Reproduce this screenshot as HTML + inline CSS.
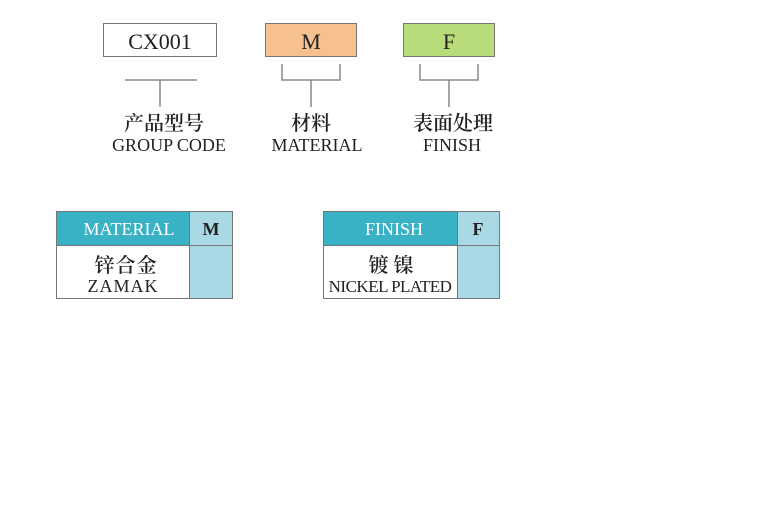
<!DOCTYPE html>
<html><head><meta charset="utf-8"><style>
body{margin:0;background:#fff;}
svg text{font-family:"Liberation Serif","Noto Serif CJK SC",serif;}
</style></head><body>
<svg width="778" height="500" xmlns="http://www.w3.org/2000/svg">
<rect x="103.5" y="23.5" width="113" height="33" fill="#fff" stroke="#777"/>
<text x="160" y="49" font-size="22" text-anchor="middle" fill="#222">CX001</text>
<rect x="265.5" y="23.5" width="91" height="33" fill="#f6c18f" stroke="#777"/>
<text x="311" y="49" font-size="22" text-anchor="middle" fill="#222">M</text>
<rect x="403.5" y="23.5" width="91" height="33" fill="#b9dc7b" stroke="#777"/>
<text x="449" y="49" font-size="22" text-anchor="middle" fill="#222">F</text>
<g stroke="#888" stroke-width="1.5" fill="none">
<path d="M125 80H197M160 80V107"/>
<path d="M282 64V80H340V64M311 80V107"/>
<path d="M420 64V80H478V64M449 80V107"/>
</g>
<g text-anchor="middle" fill="#222">
<text x="164" y="130" font-size="20" font-weight="600">产品型号</text>
<text x="311" y="130" font-size="20" font-weight="600">材料</text>
<text x="453" y="130" font-size="20" font-weight="600">表面处理</text>
<text x="169" y="151" font-size="18">GROUP CODE</text>
<text x="317" y="151" font-size="18">MATERIAL</text>
<text x="452" y="151" font-size="18">FINISH</text>
</g>
<g stroke="#777" stroke-width="1">
<rect x="56.5" y="211.5" width="133" height="34" fill="#39b2c5"/>
<rect x="189.5" y="211.5" width="43" height="34" fill="#a9d9e5"/>
<rect x="56.5" y="245.5" width="133" height="53" fill="#fff"/>
<rect x="189.5" y="245.5" width="43" height="53" fill="#a9d9e5"/>
<rect x="323.5" y="211.5" width="134" height="34" fill="#39b2c5"/>
<rect x="457.5" y="211.5" width="42" height="34" fill="#a9d9e5"/>
<rect x="323.5" y="245.5" width="134" height="53" fill="#fff"/>
<rect x="457.5" y="245.5" width="42" height="53" fill="#a9d9e5"/>
</g>
<g text-anchor="middle">
<text x="129" y="235" font-size="18" fill="#fff">MATERIAL</text>
<text x="211" y="235" font-size="18" fill="#222" font-weight="bold">M</text>
<text x="394" y="235" font-size="18" fill="#fff">FINISH</text>
<text x="478" y="235" font-size="18" fill="#222" font-weight="bold">F</text>
<text x="126" y="272" font-size="20" fill="#222" font-weight="600" letter-spacing="1">锌合金</text>
<text x="123" y="292" font-size="18" fill="#222" letter-spacing="1">ZAMAK</text>
<text x="391" y="272" font-size="20" fill="#222" font-weight="600">镀 镍</text>
<text x="390" y="292" font-size="17" fill="#222" letter-spacing="-0.5">NICKEL PLATED</text>
</g>
</svg>
</body></html>
